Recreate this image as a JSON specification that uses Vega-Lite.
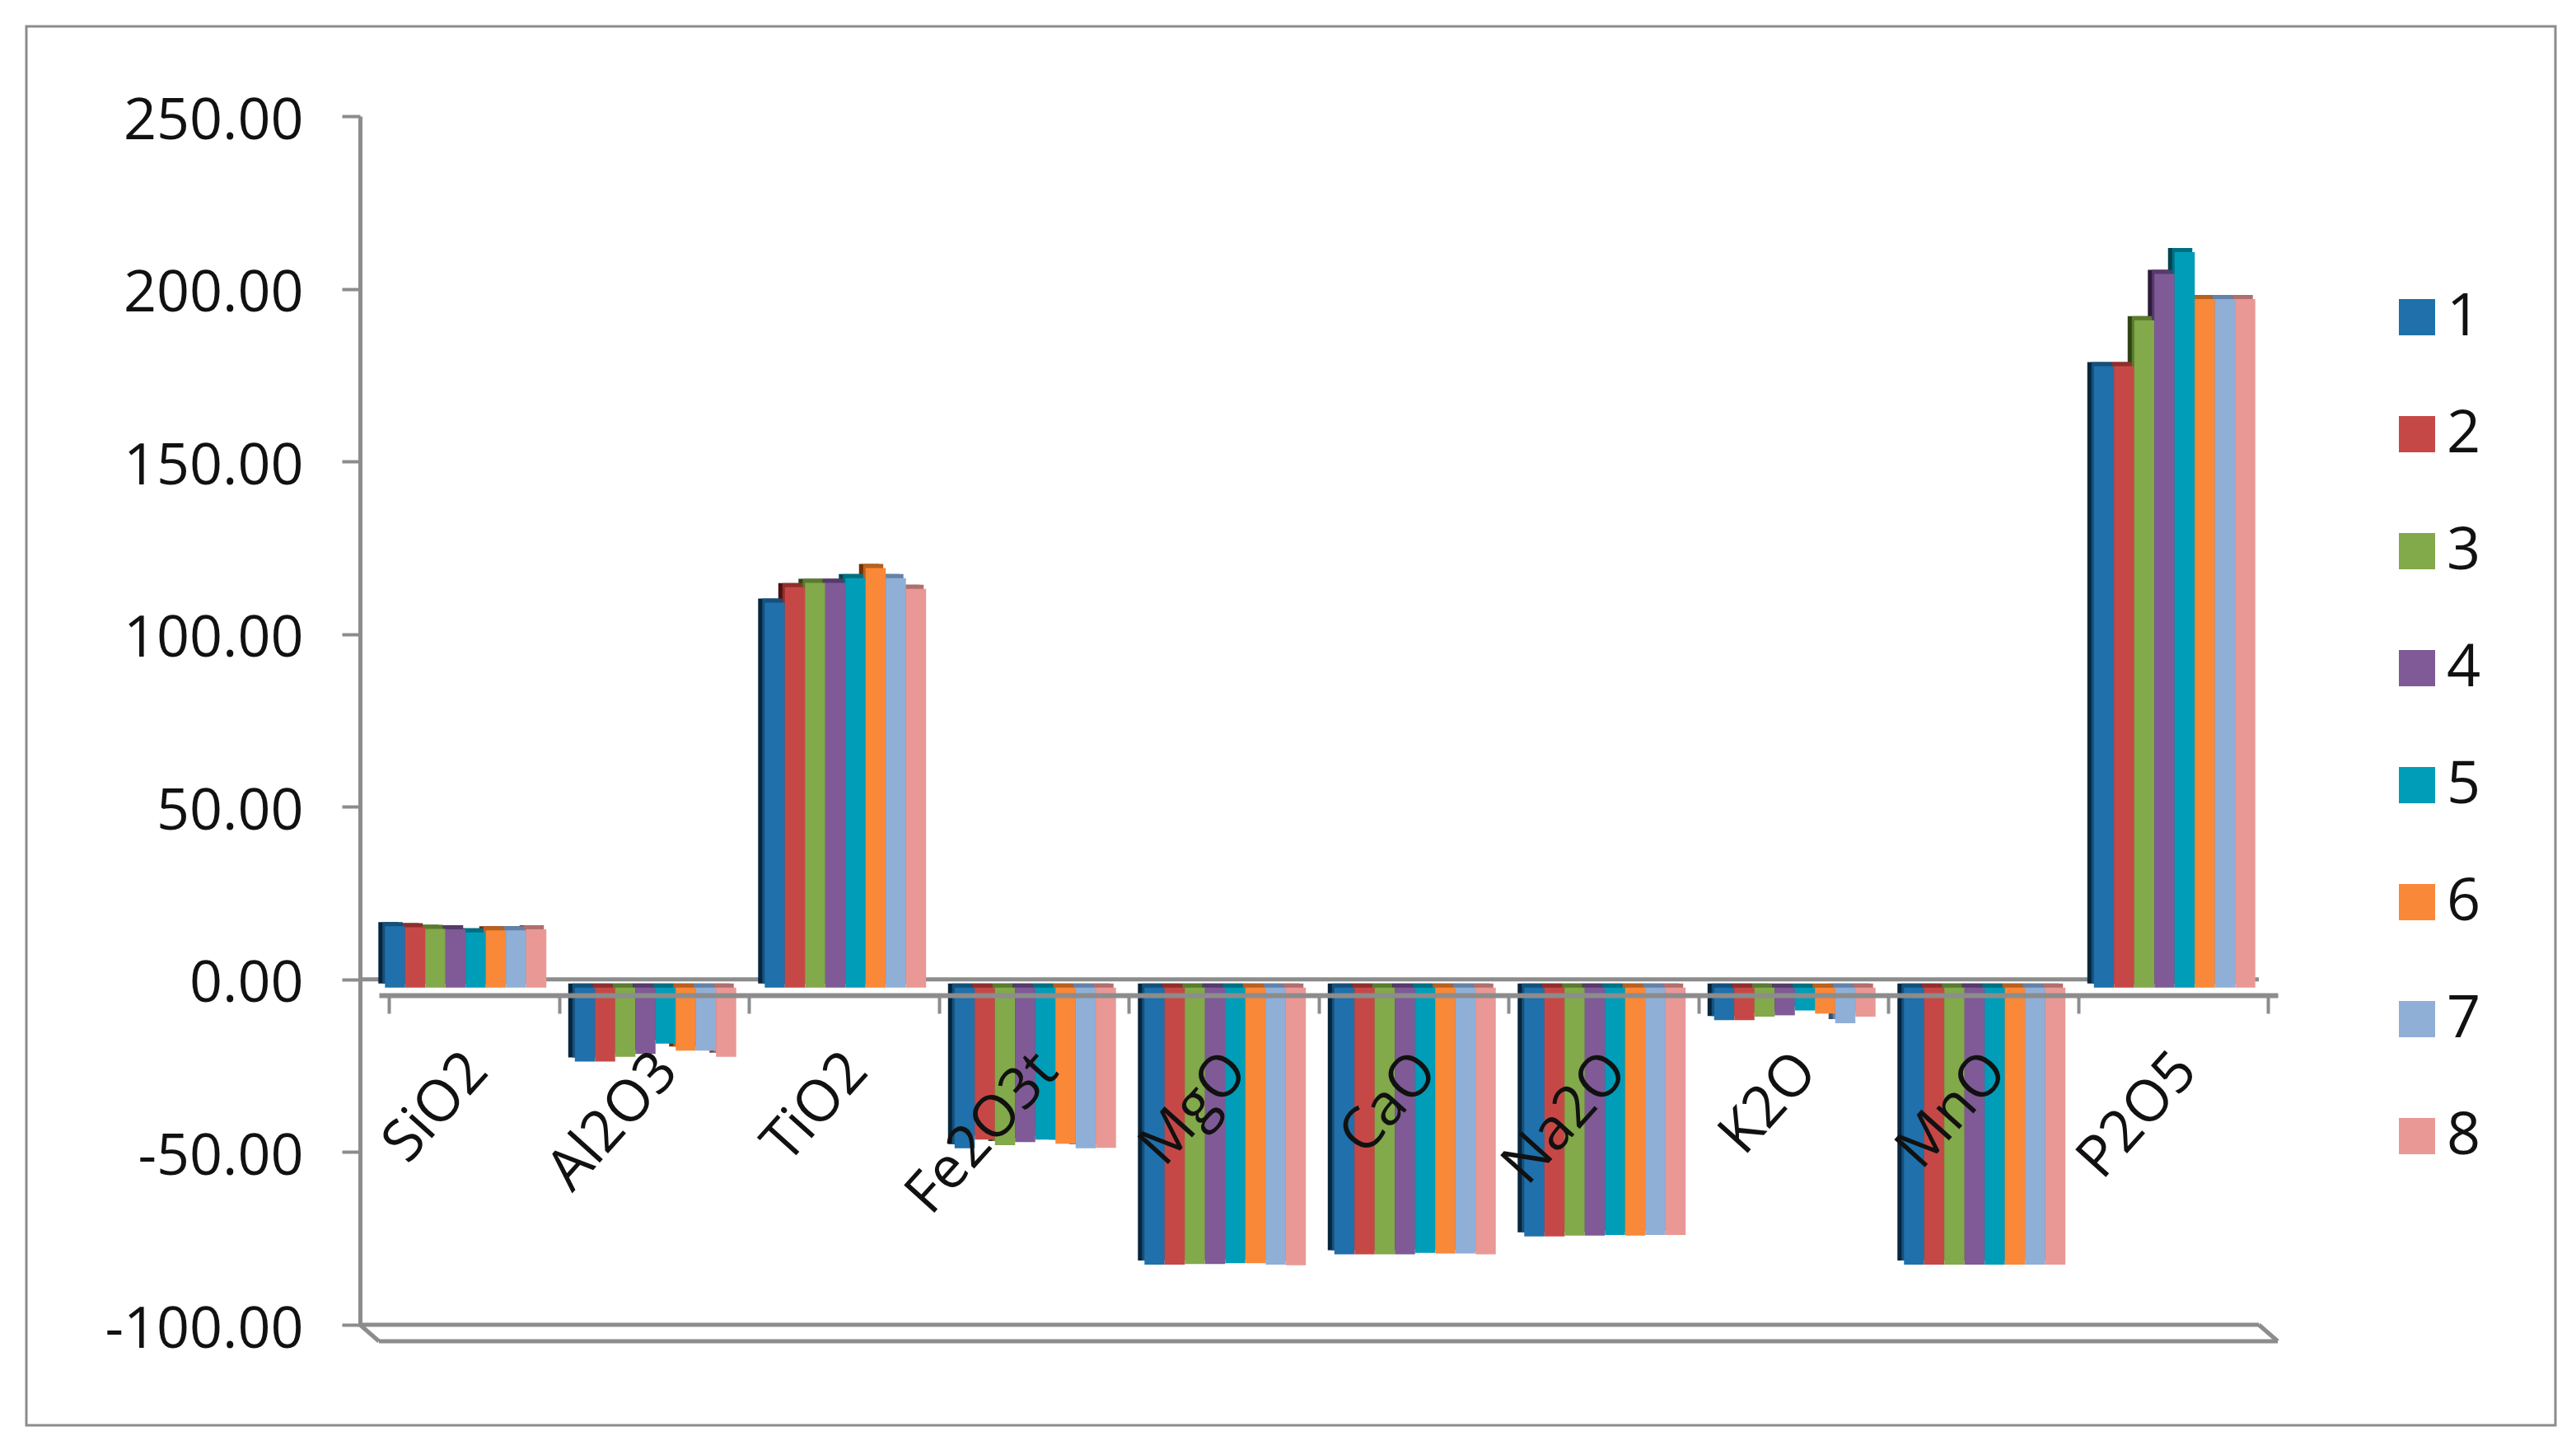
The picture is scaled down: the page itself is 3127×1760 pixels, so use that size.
{"$schema":"https://vega.github.io/schema/vega-lite/v6.json","width":2305,"height":1467,"autosize":{"type":"none"},"padding":{"left":460,"top":141,"right":362,"bottom":152},"background":"white","config":{"view":{"stroke":null},"font":"Open Sans"},"datasets":{"d":[
{"o":"SiO2","s":"1","v":17.8},{"o":"SiO2","s":"2","v":17.5},{"o":"SiO2","s":"3","v":17},{"o":"SiO2","s":"4","v":16.9},{"o":"SiO2","s":"5","v":16},{"o":"SiO2","s":"6","v":16.6},{"o":"SiO2","s":"7","v":16.6},{"o":"SiO2","s":"8","v":16.9},
{"o":"Al2O3","s":"1","v":-21.4},{"o":"Al2O3","s":"2","v":-21.4},{"o":"Al2O3","s":"3","v":-20},{"o":"Al2O3","s":"4","v":-19.2},{"o":"Al2O3","s":"5","v":-16.2},{"o":"Al2O3","s":"6","v":-18.2},{"o":"Al2O3","s":"7","v":-18.2},{"o":"Al2O3","s":"8","v":-20},
{"o":"TiO2","s":"1","v":111.5},{"o":"TiO2","s":"2","v":116},{"o":"TiO2","s":"3","v":117.2},{"o":"TiO2","s":"4","v":117.2},{"o":"TiO2","s":"5","v":118.6},{"o":"TiO2","s":"6","v":121.5},{"o":"TiO2","s":"7","v":118.6},{"o":"TiO2","s":"8","v":115.5},
{"o":"Fe2O3t","s":"1","v":-46.5},{"o":"Fe2O3t","s":"2","v":-44},{"o":"Fe2O3t","s":"3","v":-45.6},{"o":"Fe2O3t","s":"4","v":-44.7},{"o":"Fe2O3t","s":"5","v":-44},{"o":"Fe2O3t","s":"6","v":-45.2},{"o":"Fe2O3t","s":"7","v":-46.5},{"o":"Fe2O3t","s":"8","v":-46.4},
{"o":"MgO","s":"1","v":-80.2},{"o":"MgO","s":"2","v":-80.2},{"o":"MgO","s":"3","v":-80},{"o":"MgO","s":"4","v":-80},{"o":"MgO","s":"5","v":-79.8},{"o":"MgO","s":"6","v":-79.8},{"o":"MgO","s":"7","v":-80.2},{"o":"MgO","s":"8","v":-80.4},
{"o":"CaO","s":"1","v":-77.2},{"o":"CaO","s":"2","v":-77.2},{"o":"CaO","s":"3","v":-77.2},{"o":"CaO","s":"4","v":-77.2},{"o":"CaO","s":"5","v":-76.8},{"o":"CaO","s":"6","v":-77},{"o":"CaO","s":"7","v":-77},{"o":"CaO","s":"8","v":-77.2},
{"o":"Na2O","s":"1","v":-72},{"o":"Na2O","s":"2","v":-72},{"o":"Na2O","s":"3","v":-71.8},{"o":"Na2O","s":"4","v":-71.8},{"o":"Na2O","s":"5","v":-71.6},{"o":"Na2O","s":"6","v":-71.8},{"o":"Na2O","s":"7","v":-71.6},{"o":"Na2O","s":"8","v":-71.6},
{"o":"K2O","s":"1","v":-9.4},{"o":"K2O","s":"2","v":-9.4},{"o":"K2O","s":"3","v":-8.4},{"o":"K2O","s":"4","v":-8},{"o":"K2O","s":"5","v":-6.6},{"o":"K2O","s":"6","v":-7.5},{"o":"K2O","s":"7","v":-10.3},{"o":"K2O","s":"8","v":-8.4},
{"o":"MnO","s":"1","v":-80.2},{"o":"MnO","s":"2","v":-80.2},{"o":"MnO","s":"3","v":-80.2},{"o":"MnO","s":"4","v":-80.2},{"o":"MnO","s":"5","v":-80.2},{"o":"MnO","s":"6","v":-80.2},{"o":"MnO","s":"7","v":-80.2},{"o":"MnO","s":"8","v":-80.2},
{"o":"P2O5","s":"1","v":180},{"o":"P2O5","s":"2","v":180},{"o":"P2O5","s":"3","v":193.3},{"o":"P2O5","s":"4","v":206.7},{"o":"P2O5","s":"5","v":213},{"o":"P2O5","s":"6","v":199.4},{"o":"P2O5","s":"7","v":199.4},{"o":"P2O5","s":"8","v":199.4}
],"f":[{"k":"frame"}]},
"resolve":{"scale":{"x":"independent","color":"independent","xOffset":"independent"},"axis":{"x":"independent"}},
"layer":[
{"data":{"name":"f"},"mark":{"type":"rect","fill":null,"stroke":"#8c8c8c","strokeWidth":3,"xOffset":-428,"x2Offset":337,"yOffset":-109,"y2Offset":122},"encoding":{"x":{"datum":0,"type":"quantitative","scale":{"domain":[0,1]},"axis":null},"x2":{"datum":1},"y":{"datum":250,"type":"quantitative","scale":{"domain":[-100,250],"nice":false},"axis":{"orient":"left","offset":23,"values":[-100,-50,0,50,100,150,200,250],"format":".2f","labelExpr":"replace(datum.label,'−','-')","title":null,"grid":false,"domainColor":"#8c8c8c","domainWidth":5,"tickColor":"#8c8c8c","tickWidth":4,"tickSize":22,"labelFontSize":70,"labelFont":"Open Sans","labelColor":"#111111","labelPadding":47,"labelOffset":6,"labelLimit":1000}},"y2":{"datum":-100}}},
{"data":{"name":"f"},"mark":{"type":"rule","color":"#8c8c8c","strokeWidth":5,"xOffset":-23,"x2Offset":-23},"encoding":{"x":{"datum":0,"type":"quantitative","scale":{"domain":[0,1]},"axis":null},"x2":{"datum":1},"y":{"datum":0,"type":"quantitative"}}},
{"data":{"name":"f"},"mark":{"type":"rule","color":"#8c8c8c","strokeWidth":5,"xOffset":-23,"x2Offset":-23},"encoding":{"x":{"datum":0,"type":"quantitative","scale":{"domain":[0,1]},"axis":null},"x2":{"datum":1},"y":{"datum":-100,"type":"quantitative"}}},
{"data":{"name":"f"},"mark":{"type":"rule","color":"#8c8c8c","strokeWidth":5,"yOffset":20},"encoding":{"x":{"datum":0,"type":"quantitative","scale":{"domain":[0,1]},"axis":null},"x2":{"datum":1},"y":{"datum":-100,"type":"quantitative"}}},
{"data":{"name":"f"},"mark":{"type":"rule","color":"#8c8c8c","strokeWidth":5,"xOffset":-23,"x2Offset":0,"yOffset":0,"y2Offset":20},"encoding":{"x":{"datum":0,"type":"quantitative","scale":{"domain":[0,1]},"axis":null},"x2":{"datum":0},"y":{"datum":-100,"type":"quantitative"},"y2":{"datum":-100}}},
{"data":{"name":"f"},"mark":{"type":"rule","color":"#8c8c8c","strokeWidth":5,"xOffset":-23,"x2Offset":0,"yOffset":0,"y2Offset":20},"encoding":{"x":{"datum":1,"type":"quantitative","scale":{"domain":[0,1]},"axis":null},"x2":{"datum":1},"y":{"datum":-100,"type":"quantitative"},"y2":{"datum":-100}}},
{"data":{"name":"d"},"mark":{"type":"bar","yOffset":5,"y2Offset":5},"encoding":{"x":{"field":"o","type":"nominal","sort":null,"scale":{"paddingInner":0.15,"paddingOuter":0.075,"range":[-18,2287]},"axis":null},"xOffset":{"field":"s","type":"nominal","scale":{"paddingInner":0,"paddingOuter":0}},"y":{"field":"v","type":"quantitative"},"y2":{"datum":0},"color":{"field":"s","type":"nominal","legend":null,"scale":{"range":["#06263e","#4a1210","#2f4413","#2e1b3c","#004650","#6e3207","#3b5170","#7a4442"]}}}},
{"data":{"name":"d"},"mark":{"type":"bar","yOffset":5,"y2Offset":5},"encoding":{"x":{"field":"o","type":"nominal","sort":null,"scale":{"paddingInner":0.15,"paddingOuter":0.075,"range":[-13,2292]},"axis":null},"xOffset":{"field":"s","type":"nominal","scale":{"paddingInner":0,"paddingOuter":0}},"y":{"field":"v","type":"quantitative"},"y2":{"datum":0},"color":{"field":"s","type":"nominal","legend":null,"scale":{"range":["#15507c","#8f2f2d","#5a7a2f","#563a6b","#006f82","#b8601f","#6482a8","#b06f6d"]}}}},
{"data":{"name":"d"},"mark":{"type":"bar","yOffset":10,"y2Offset":10},"encoding":{"x":{"field":"o","type":"nominal","sort":null,"scale":{"paddingInner":0.15,"paddingOuter":0.075,"range":[-10,2295]},"axis":null},"xOffset":{"field":"s","type":"nominal","scale":{"paddingInner":0,"paddingOuter":0}},"y":{"field":"v","type":"quantitative"},"y2":{"datum":0},"color":{"field":"s","type":"nominal","scale":{"range":["#1f70ab","#c64846","#82a94a","#7f5a96","#009db8","#f98838","#8fafd7","#e99896"]},"legend":{"title":null,"orient":"none","legendX":2438,"legendY":208,"symbolType":"square","symbolSize":1936,"symbolStrokeWidth":0,"symbolOpacity":1,"labelFontSize":72,"labelFont":"Open Sans","labelColor":"#111111","labelOffset":0,"rowPadding":70}}}},
{"data":{"name":"d"},"mark":{"type":"bar","opacity":0},"encoding":{"x":{"field":"o","type":"nominal","sort":null,"axis":{"orient":"bottom","offset":-400,"title":null,"tickBand":"extent","domainColor":"#8c8c8c","domainWidth":6,"tickColor":"#8c8c8c","tickWidth":4,"tickSize":22,"labelFontSize":70,"labelFont":"Open Sans","labelColor":"#111111","labelAngle":-48,"labelAlign":"right","labelBaseline":"middle","labelPadding":58,"labelOffset":4,"labelOverlap":false,"labelBound":false,"labelFlush":false,"labelLimit":1000,"zindex":1}},"y":{"field":"v","type":"quantitative"},"y2":{"datum":0}}}
]}
